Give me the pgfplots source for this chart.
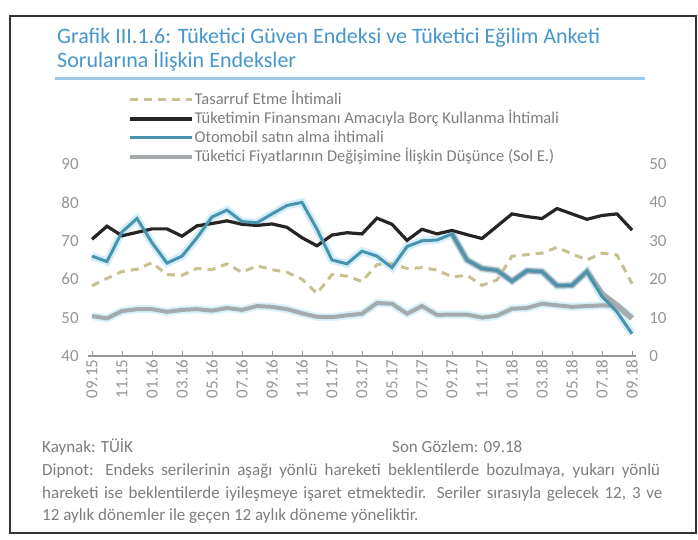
\documentclass[border=0pt]{standalone}
\usepackage{fontspec}
\setmainfont{Carlito}
\usepackage{pgfplots}
\usepackage{pgfplotstable}
\pgfplotsset{compat=1.18}
\definecolor{ttl}{RGB}{70,150,205}
\definecolor{ttlline}{RGB}{160,200,235}
\definecolor{txtgray}{RGB}{125,125,125}
\definecolor{tickgray}{RGB}{150,150,150}
\definecolor{dashc}{RGB}{200,192,145}
\definecolor{blk}{RGB}{40,36,36}
\definecolor{blu}{RGB}{72,148,175}
\definecolor{gry}{RGB}{165,170,172}
\definecolor{halo}{RGB}{200,234,248}

\pgfplotstableread{
i T B O D
0 58.3 70.4 66.0 50.4
1 60.2 73.8 64.6 49.8
2 62.0 71.3 72.3 51.7
3 62.6 72.2 75.8 52.2
4 64.3 73.1 69.5 52.2
5 61.2 73.1 64.2 51.5
6 61.0 71.2 66.0 52.0
7 62.8 73.9 70.8 52.2
8 62.5 74.5 76.2 51.8
9 64.0 75.2 78.0 52.5
10 61.8 74.3 75.0 52.0
11 63.5 74.0 74.7 53.0
12 62.5 74.4 77.0 52.8
13 61.8 73.5 79.2 52.2
14 60.0 70.8 80.0 51.1
15 56.3 68.7 73.0 50.2
16 61.2 71.5 65.0 50.1
17 60.8 72.1 64.0 50.6
18 59.4 71.8 67.3 51.0
19 63.8 75.9 66.0 53.8
20 64.0 74.3 63.0 53.6
21 62.8 70.1 68.5 51.0
22 63.0 73.0 70.0 53.0
23 62.4 71.8 70.2 50.7
24 60.6 72.7 71.8 50.8
25 61.0 71.6 65.0 50.8
26 58.4 70.6 62.8 50.0
27 59.8 73.8 62.3 50.5
28 66.0 77.0 59.5 52.3
29 66.4 76.3 62.2 52.5
30 66.8 75.8 62.0 53.6
31 68.3 78.4 58.3 53.2
32 66.6 77.0 58.4 52.8
33 65.0 75.6 62.0 53.0
34 66.8 76.6 55.5 53.2
35 66.3 77.0 51.5 53.0
36 58.8 72.8 45.8 50.0
}\data

\pgfplotstableread{
i E
24 71.8
25 65.0
26 62.8
27 62.3
28 59.5
29 62.2
30 62.0
31 58.3
32 58.4
33 62.0
34 56.2
35 53.2
36 49.8
}\edata

\begin{document}
\begin{tikzpicture}[x=1pt,y=1pt]
\begin{scope}[shift={(-88.25,-184)}]
\path[use as bounding box] (0,0) rectangle (698,540);
\draw[line width=1.8pt, black!80] (10,7) rectangle (696,524);
\node[anchor=base west, inner sep=0pt, text=ttl, font=\fontsize{22}{24}\selectfont] at (57,496) {Grafik III.1.6: Tüketici Güven Endeksi ve Tüketici Eğilim Anketi};
\node[anchor=base west, inner sep=0pt, text=ttl, font=\fontsize{22}{24}\selectfont] at (57,472) {Sorularına İlişkin Endeksler};
\draw[line width=3pt, ttlline] (55,461) -- (645,461);
\node[anchor=base west, inner sep=0pt, text=txtgray, font=\fontsize{17}{19}\selectfont] at (42,87) {Kaynak: TÜİK};
\node[anchor=base west, inner sep=0pt, text=txtgray, font=\fontsize{17}{19}\selectfont] at (392,87) {Son Gözlem: 09.18};
\node[anchor=base west, inner sep=0pt, text=txtgray, font=\fontsize{17}{19}\selectfont] at (42,64) {\makebox[618pt][s]{Dipnot: Endeks serilerinin aşağı yönlü hareketi beklentilerde bozulmaya, yukarı yönlü}};
\node[anchor=base west, inner sep=0pt, text=txtgray, font=\fontsize{17}{19}\selectfont] at (42,42) {\makebox[620pt][s]{hareketi ise beklentilerde iyileşmeye işaret etmektedir. Seriler sırasıyla gelecek 12, 3 ve}};
\node[anchor=base west, inner sep=0pt, text=txtgray, font=\fontsize{17}{19}\selectfont] at (42,20) {12 aylık dönemler ile geçen 12 aylık döneme yöneliktir.};
\end{scope}

\begin{axis}[
  scale only axis, width=547.5pt, height=192pt,
  xmin=-0.25, xmax=36.25, ymin=40, ymax=90,
  axis x line*=bottom, axis y line*=left,
  y axis line style={draw=none},
  x axis line style={draw=tickgray, line width=1.6pt},
  ytick={40,50,...,90},
  ytick style={draw=none},
  xtick={0,2,...,36},
  xticklabels={09.15,11.15,01.16,03.16,05.16,07.16,09.16,11.16,01.17,03.17,05.17,07.17,09.17,11.17,01.18,03.18,05.18,07.18,09.18},
  xtick style={draw=tickgray, line width=1pt},
  major tick length=5pt,
  tick align=inside,
  /pgf/number format/assume math mode=true,
  ticklabel style={text=tickgray, font=\fontsize{17}{18}\selectfont},
  xticklabel style={rotate=90, anchor=east},
  yticklabel style={xshift=-6pt},
  clip=false,
  legend image code/.code={\draw[#1] (0pt,0pt) -- (62pt,0pt);},
  legend style={at={(0.0726,1.38)}, anchor=north west, draw=none, fill=none,
    font=\fontsize{16.5}{19}\selectfont, text=txtgray, row sep=1.5pt,
    inner sep=0pt, nodes={inner sep=0.5pt, text height=12.5pt, text depth=4pt}},
  legend cell align=left,
]
\addplot[forget plot, halo, line width=8pt, opacity=0.8] table[x=i,y=O] {\data};
\addplot[forget plot, halo, line width=8pt, opacity=0.7] table[x=i,y=D] {\data};
\addplot[forget plot, dashc, line width=3pt, dash pattern=on 8pt off 6pt] table[x=i,y=T] {\data};
\addplot[forget plot, gry, line width=4pt] table[x=i,y=D] {\data};
\addplot[forget plot, blk, line width=3.2pt] table[x=i,y=B] {\data};
\addplot[forget plot, gry, line width=5.5pt] table[x=i,y=E] {\edata};
\addplot[forget plot, blu, line width=3pt] table[x=i,y=O] {\data};
\addlegendimage{dashc, line width=3pt, dash pattern=on 8pt off 6pt}
\addlegendentry{Tasarruf Etme İhtimali}
\addlegendimage{blk, line width=3.2pt}
\addlegendentry{Tüketimin Finansmanı Amacıyla Borç Kullanma İhtimali}
\addlegendimage{blu, line width=3pt}
\addlegendentry{Otomobil satın alma ihtimali}
\addlegendimage{gry, line width=4pt}
\addlegendentry{Tüketici Fiyatlarının Değişimine İlişkin Düşünce (Sol E.)}
\end{axis}

\begin{axis}[
  scale only axis, width=547.5pt, height=192pt,
  xmin=-0.25, xmax=36.25, ymin=0, ymax=50,
  axis y line*=right, hide x axis,
  y axis line style={draw=none},
  ytick={0,10,...,50},
  ytick style={draw=none},
  /pgf/number format/assume math mode=true,
  ticklabel style={text=tickgray, font=\fontsize{17}{18}\selectfont},
  yticklabel style={xshift=10pt},
]
\addplot[draw=none, forget plot] coordinates {(0,0)};
\end{axis}
\end{tikzpicture}
\end{document}
